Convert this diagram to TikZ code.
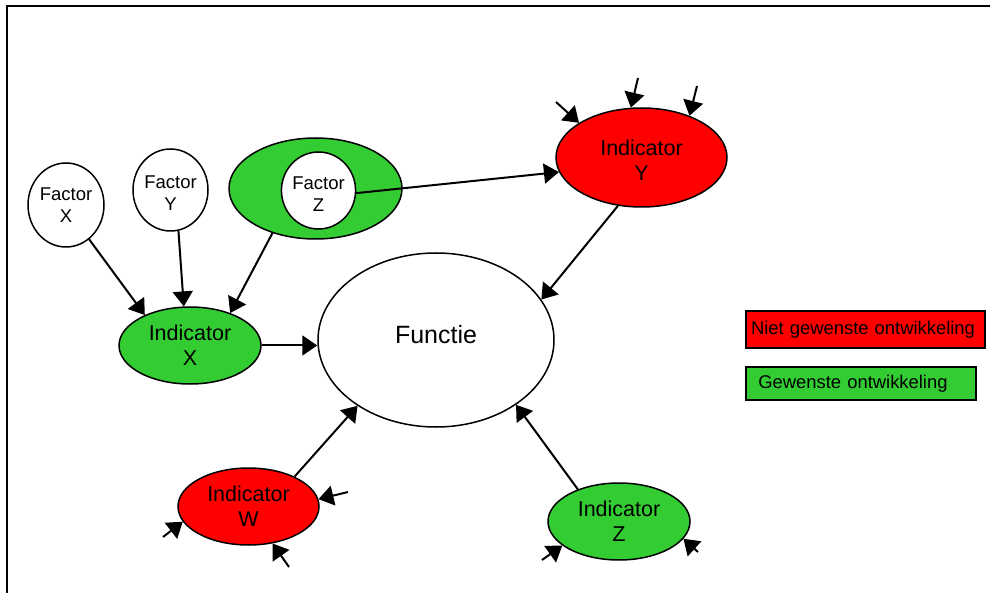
\documentclass[tikz,border=0pt]{standalone}
\usepackage{fontspec}
\setmainfont{Liberation Sans}
\usetikzlibrary{shapes.geometric,arrows.meta}
\definecolor{goodgreen}{RGB}{51,204,51}
\definecolor{badred}{RGB}{255,0,0}
% invisible strut on the first line, which lowers a two-line label a little
\newcommand{\taller}[1]{\rule{0pt}{#1}}
\begin{document}
\begin{tikzpicture}[x=1pt,y=-1pt,
  ell/.style={ellipse, draw, line width=1.5pt, inner sep=0pt, align=center},
  indic/.style={ell, font=\fontsize{21.5}{25}\selectfont, minimum width=142pt, minimum height=77pt},
  fact/.style={ell, fill=white, font=\fontsize{18.5}{22}\selectfont},
  arr/.style={line width=2pt, -{Triangle[length=15pt,width=20pt]}},
  legend/.style={draw, line width=2pt, rectangle, inner ysep=0pt, align=left,
    font=\fontsize{18.4}{22}\selectfont}]
\useasboundingbox (0,0) rectangle (990,593);
\clip (0,0) rectangle (990,593);
% outer frame
\draw[line width=2.3pt] (7.2,6.2) rectangle (1010,620);

% factors
\node[fact, minimum width=76pt, minimum height=84pt] (fx) at (66,205) {Factor\\X};
\node[fact, minimum width=75pt, minimum height=82pt] (fy) at (170.5,190) {\taller{19.5pt}Factor\\Y};
\node[ell, fill=goodgreen, minimum width=173pt, minimum height=101pt] (gz) at (315.5,188.5) {};
\node[fact, minimum width=73pt, minimum height=77pt] (fz) at (318.5,190.5) {\taller{19.5pt}Factor\\Z};

% indicators
\node[indic, fill=badred, minimum width=171pt, minimum height=99pt] (iy) at (641.5,157.5) {\taller{21.7pt}Indicator\\Y};
\node[indic, fill=goodgreen] (ix) at (190,345.5) {Indicator\\X};
\node[indic, fill=badred, minimum width=141pt] (iw) at (248.5,506.5) {Indicator\\W};
\node[indic, fill=goodgreen] (iz) at (619,521.5) {Indicator\\Z};

% central function
\node[ell, minimum width=236pt, minimum height=174pt] (fn) at (436,340) {};
\node[font=\fontsize{25}{30}\selectfont, inner sep=0pt] (fnlabel) at (436,335) {Functie};

% legend
\node[legend, fill=badred, text width=228.7pt, inner xsep=5pt, minimum height=37.3pt]
  (lgred) at (865.35,329.65) {Niet gewenste ontwikkeling};
\node[legend, fill=goodgreen, text width=205pt, inner xsep=12.3pt, minimum height=33pt]
  (lggreen) at (860.85,383.5) {Gewenste ontwikkeling};

% influences
\draw[arr] (fx.-56) -- (ix.146);
\draw[arr] (fy.-79) -- (ix.99);
\draw[arr] (gz.226) -- (ix.39);
\draw[arr] (fz.-4) -- (iy.190);
\draw[arr] (iy.244) -- (fn.21);
\draw[arr] (ix.east) -- (ix.east -| fn.west);
\draw[arr] (iw.33) -- (fn.220);
\draw[arr] (iz.142) -- (fn.-39);

% outside influences
\coordinate (sy1) at (556,102);
\coordinate (sy2) at (638,78);
\coordinate (sy3) at (697,86);
\draw[arr] (sy1) -- (iy.151);
\draw[arr] (sy2) -- (iy.102);
\draw[arr] (sy3) -- (iy.41);

\coordinate (sw1) at (348,492);
\coordinate (sw2) at (163,537);
\coordinate (sw3) at (289,567);
\draw[arr] (sw1) -- (iw.6);
\draw[arr] (sw2) -- (iw.193);
\draw[arr] (sw3) -- (iw.-57);

\coordinate (sz1) at (542,560);
\coordinate (sz2) at (698,552);
\draw[arr] (sz1) -- (iz.203);
\draw[arr] (sz2) -- (iz.-15);
\end{tikzpicture}
\end{document}
